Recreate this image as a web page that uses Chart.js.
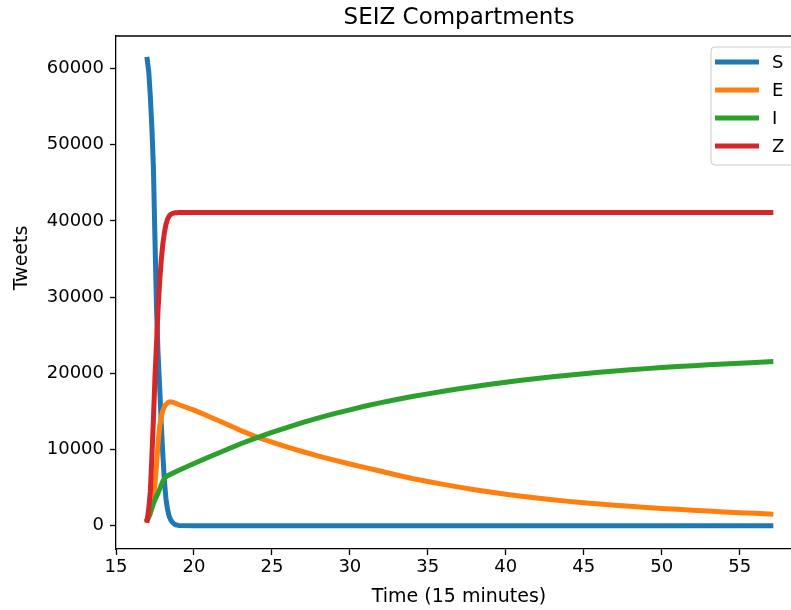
<!DOCTYPE html>
<html>
<head>
<meta charset="utf-8">
<script src="https://cdn.jsdelivr.net/npm/chart.js@4.4.1/dist/chart.umd.min.js"></script>
<style>
  html, body { margin: 0; padding: 0; overflow: hidden; background: #fff; }
</style>
</head>
<body>
<canvas id="myChart" width="802" height="610"></canvas>
<script>
// time steps (15 minutes)
var times = [17, 17.1, 17.2, 17.3, 17.4, 17.5, 17.6, 17.7, 17.8, 17.9,
  18, 18.1, 18.2, 18.3, 18.4, 18.5, 18.6, 18.7, 18.8, 18.9,
  19, 20, 21, 22, 23, 24, 25, 26, 27, 28, 29, 30, 31, 32, 33, 34, 35, 36, 37, 38,
  39, 40, 41, 42, 43, 44, 45, 46, 47, 48, 49, 50, 51, 52, 53, 54, 55, 56, 57];

var labels = ['S', 'E', 'I', 'Z'];

var sVals = [61200, 59600, 56400, 52300, 47000, 37500, 28500, 22500, 18200, 13500,
  9500, 6000, 3600, 2200, 1300, 800, 500, 280, 150, 80,
  40, 0, 0, 0, 0, 0, 0, 0, 0, 0, 0, 0, 0, 0, 0, 0, 0, 0, 0, 0,
  0, 0, 0, 0, 0, 0, 0, 0, 0, 0, 0, 0, 0, 0, 0, 0, 0, 0, 0];

var eVals = [800, 1100, 1600, 2500, 3800, 5500, 8000, 10800, 13000, 14300,
  15100, 15600, 15900, 16100, 16220, 16250, 16220, 16160, 16080, 15990,
  15900, 15170, 14300, 13400, 12500, 11650, 10950, 10300, 9700, 9130, 8600, 8100, 7620, 7150, 6650, 6200, 5800, 5420, 5060, 4720,
  4410, 4120, 3860, 3620, 3400, 3190, 3000, 2830, 2680, 2540, 2400, 2270, 2150, 2030, 1920, 1810, 1710, 1620, 1530];

var iVals = [800, 1200, 1700, 2300, 2900, 3400, 3850, 4300, 4800, 5300,
  5800, 6150, 6400, 6550, 6650, 6750, 6850, 6950, 7050, 7150,
  7250, 8150, 9050, 9900, 10750, 11530, 12250, 12900, 13550, 14150, 14700, 15200, 15700, 16150, 16550, 16950, 17300, 17650, 17970, 18270,
  18560, 18830, 19080, 19320, 19540, 19750, 19950, 20130, 20300, 20460, 20610, 20750, 20880, 21000, 21120, 21230, 21330, 21430, 21520];

var zVals = [700, 2200, 4500, 9000, 14000, 19500, 24000, 28500, 32000, 34800,
  36900, 38400, 39500, 40200, 40600, 40850, 40950, 41020, 41060, 41080,
  41100, 41100, 41100, 41100, 41100, 41100, 41100, 41100, 41100, 41100, 41100, 41100, 41100, 41100, 41100, 41100, 41100, 41100, 41100, 41100,
  41100, 41100, 41100, 41100, 41100, 41100, 41100, 41100, 41100, 41100, 41100, 41100, 41100, 41100, 41100, 41100, 41100, 41100, 41100];

var xTickVals = [15, 20, 25, 30, 35, 40, 45, 50, 55];
var yTickVals = [0, 10000, 20000, 30000, 40000, 50000, 60000];
var xRange = [15, 59];
var yRange = [-3060, 64260];
var yTitle = 'Tweets';

var colors = ['#1f77b4', '#ff7f0e', '#2ca02c', '#d62728'];
var font = 'DejaVu Sans';

function pts(vals) {
  return times.map((t, i) => ({ x: t, y: vals[i] }));
}

// top spine, y label and matplotlib-like legend box
var extras = {
  id: 'extras',
  afterDraw(chart) {
    var ctx = chart.ctx, a = chart.chartArea;
    ctx.save();
    ctx.strokeStyle = '#000';
    ctx.lineWidth = 1.3;
    ctx.beginPath();
    ctx.moveTo(a.left, a.top);
    ctx.lineTo(a.right, a.top);
    ctx.stroke();

    // y axis label
    ctx.save();
    ctx.translate(22, 258);
    ctx.rotate(-Math.PI / 2);
    ctx.font = '19px "' + font + '"';
    ctx.textAlign = 'center';
    ctx.textBaseline = 'middle';
    ctx.fillStyle = '#000';
    ctx.fillText(yTitle, 0, 0);
    ctx.restore();

    var bx = 711, by = 47, bw = 88, bh = 118, r = 4;
    ctx.beginPath();
    ctx.roundRect(bx, by, bw, bh, r);
    ctx.fillStyle = 'rgba(255,255,255,0.8)';
    ctx.fill();
    ctx.strokeStyle = '#cccccc';
    ctx.lineWidth = 1;
    ctx.stroke();

    ctx.font = '18px "' + font + '"';
    ctx.textBaseline = 'middle';
    ctx.fillStyle = '#000';
    chart.data.datasets.forEach((ds, i) => {
      var y = 62 + i * 28;
      ctx.strokeStyle = ds.borderColor;
      ctx.lineWidth = 5;
      ctx.beginPath();
      ctx.moveTo(715, y);
      ctx.lineTo(759, y);
      ctx.stroke();
      ctx.fillText(ds.label, 772, y + 1);
    });
    ctx.restore();
  }
};

function setTicks(vals) {
  return s => { s.ticks = vals.map(v => ({ value: v })); };
}

new Chart(document.getElementById('myChart'), {
  type: 'line',
  data: {
    datasets: [sVals, eVals, iVals, zVals].map((v, i) => ({
      label: labels[i],
      data: pts(v),
      borderColor: colors[i],
      backgroundColor: colors[i],
      borderWidth: 5,
      pointRadius: 0,
      tension: 0,
      fill: false,
      borderCapStyle: 'square',
      borderJoinStyle: 'round',
      order: 4 - i
    }))
  },
  options: {
    responsive: false,
    animation: false,
    layout: { padding: 0 },
    plugins: {
      legend: { display: false },
      tooltip: { enabled: false },
      title: {
        display: true,
        text: 'SEIZ Compartments',
        fullSize: false,
        color: '#000',
        font: { family: font, size: 23, weight: 'normal' },
        padding: { top: 4, bottom: 4.4 }
      }
    },
    scales: {
      x: {
        type: 'linear',
        min: xRange[0],
        max: xRange[1],
        afterFit(s) { s.height = 61; },
        afterBuildTicks: setTicks(xTickVals),
        ticks: {
          color: '#000',
          padding: 2,
          maxRotation: 0,
          autoSkip: false,
          font: { family: font, size: 18 },
          callback: v => String(v)
        },
        grid: { drawOnChartArea: false, drawTicks: true, tickLength: 6, tickColor: '#000', tickWidth: 1.3 },
        border: { display: true, color: '#000', width: 1.3 },
        title: {
          display: true,
          text: 'Time (15 minutes)',
          color: '#000',
          font: { family: font, size: 19 },
          padding: { top: 0, bottom: 2 }
        }
      },
      y: {
        type: 'linear',
        min: yRange[0],
        max: yRange[1],
        afterFit(s) { s.width = 116; },
        afterBuildTicks: setTicks(yTickVals),
        ticks: {
          color: '#000',
          padding: 6,
          autoSkip: false,
          font: { family: font, size: 18 },
          callback: v => String(v)
        },
        grid: { drawOnChartArea: false, drawTicks: true, tickLength: 6, tickColor: '#000', tickWidth: 1.3 },
        border: { display: true, color: '#000', width: 1.3 }
      }
    }
  },
  plugins: [extras]
});
</script>
</body>
</html>
